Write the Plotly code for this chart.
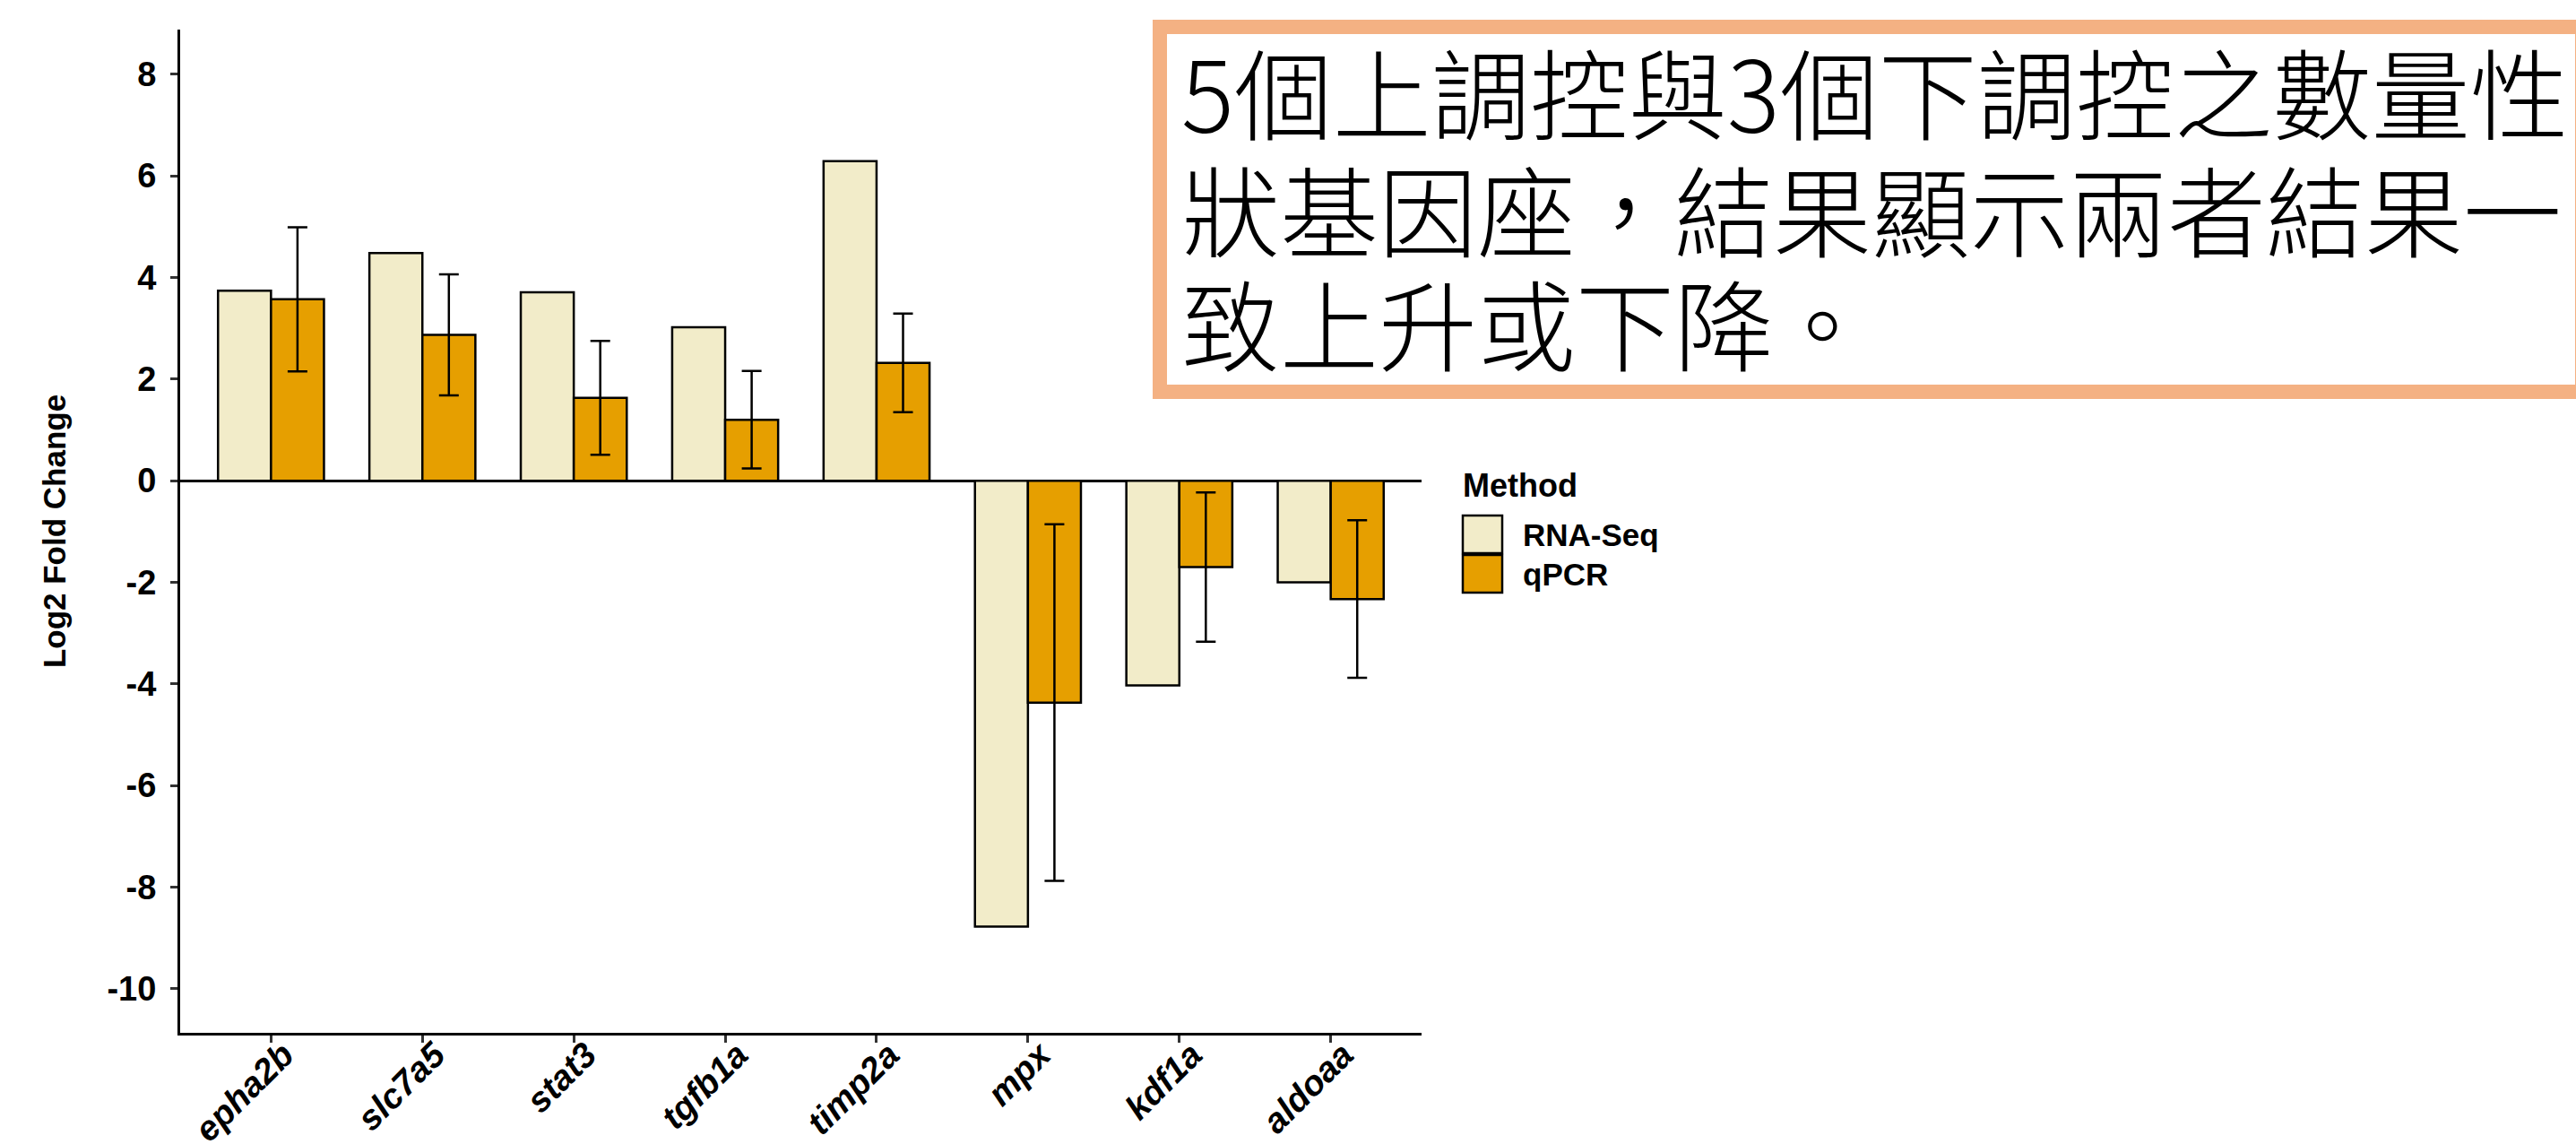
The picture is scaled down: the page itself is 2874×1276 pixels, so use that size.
import plotly.graph_objects as go

genes = ["epha2b", "slc7a5", "stat3", "tgfb1a", "timp2a", "mpx", "kdf1a", "aldoaa"]
rnaseq = [3.74, 4.48, 3.71, 3.02, 6.29, -8.78, -4.03, -2.00]
qpcr = [3.57, 2.87, 1.63, 1.20, 2.32, -4.37, -1.70, -2.33]
qpcr_err = [1.42, 1.19, 1.12, 0.96, 0.97, 3.51, 1.47, 1.55]
y_ticks = [-10, -8, -6, -4, -2, 0, 2, 4, 6, 8]
y_ticktext = ["-10", "-8", "-6", "-4", "-2", "0", "2", "4", "6", "8"]
methods = ["RNA-Seq", "qPCR"]
colors = ["#F2ECC9", "#E69F00"]
note_lines = ["5個上調控與3個下調控之數量性", "狀基因座，結果顯示兩者結果一", "致上升或下降。"]

W, H = 2874, 1276
L, R, T, B = 201, 1288, 33, 124
PW, PH = W - L - R, H - T - B


def px(xp):
    return (xp - L) / PW


def py(yp):
    return (H - B - yp) / PH


FONT = "Liberation Sans, Arial, sans-serif"

fig = go.Figure()
fig.add_trace(go.Bar(x=genes, y=rnaseq, name=methods[0], marker=dict(color=colors[0], line=dict(color="black", width=2.5)), showlegend=False))
fig.add_trace(go.Bar(x=genes, y=qpcr, name=methods[1], marker=dict(color=colors[1], line=dict(color="black", width=2.5)),
                     error_y=dict(type="data", array=qpcr_err, visible=True, color="black", thickness=2.5, width=11),
                     showlegend=False))

fig.update_layout(
    width=W, height=H,
    margin=dict(l=L, r=R, t=T, b=B, autoexpand=False),
    paper_bgcolor="white", plot_bgcolor="white",
    barmode="group", bargap=0.3, bargroupgap=0,
    font=dict(family=FONT, color="black"),
)
fig.update_xaxes(
    range=[-0.6, 7.6], showline=True, linecolor="black", linewidth=3, mirror=False,
    ticks="outside", ticklen=8, tickwidth=2.5, tickcolor="#333333", showgrid=False,
    tickangle=-45, tickfont=dict(family=FONT, size=39, weight="bold", style="italic", color="black"),
    ticklabelstandoff=-25, ticklabelshift=14,
    automargin=False,
)
fig.update_yaxes(
    range=[-10.87, 8.88], tickvals=y_ticks, ticktext=y_ticktext, showline=True, linecolor="black", linewidth=3,
    ticks="outside", ticklen=8, tickwidth=2.5, tickcolor="#333333", showgrid=False,
    zeroline=True, zerolinecolor="black", zerolinewidth=3,
    tickfont=dict(family=FONT, size=38, weight="bold", color="black"),
    title=dict(text="Log2 Fold Change", font=dict(family=FONT, size=35, weight="bold", color="black"), standoff=36),
    ticklabelstandoff=8,
    automargin=False,
)

# custom legend
fig.add_annotation(xref="paper", yref="paper", x=px(1630), y=py(541), text="Method", showarrow=False,
                   xanchor="left", yanchor="middle", font=dict(family=FONT, size=36, weight="bold", color="black"))
key_tops = [575, 619]
for name, col, top in zip(methods, colors, key_tops):
    fig.add_shape(type="rect", xref="paper", yref="paper", x0=px(1632), x1=px(1676), y0=py(top), y1=py(top + 42),
                  line=dict(color="black", width=2.5), fillcolor=col, layer="above")
    fig.add_annotation(xref="paper", yref="paper", x=px(1697), y=py(top + 21), text=name, showarrow=False,
                       xanchor="left", yanchor="middle", font=dict(family=FONT, size=35, weight="bold", color="black"))

# text box
fig.add_shape(type="rect", xref="paper", yref="paper", x0=px(1294), x1=px(2881), y0=py(30), y1=py(437),
              line=dict(color="#F4B183", width=16), fillcolor="white", layer="above")
line_centers = [100, 231, 358]
for txt, yc in zip(note_lines, line_centers):
    fig.add_annotation(xref="paper", yref="paper", x=px(1316), y=py(yc), text=txt, showarrow=False,
                       xanchor="left", yanchor="middle",
                       font=dict(family="Noto Sans CJK TC, Noto Sans CJK SC, sans-serif", size=110, weight=300, color="black"))

fig.write_html("out.html", config={"displayModeBar": False},
               post_script="document.body.style.margin='0';document.body.style.overflow='hidden';")
